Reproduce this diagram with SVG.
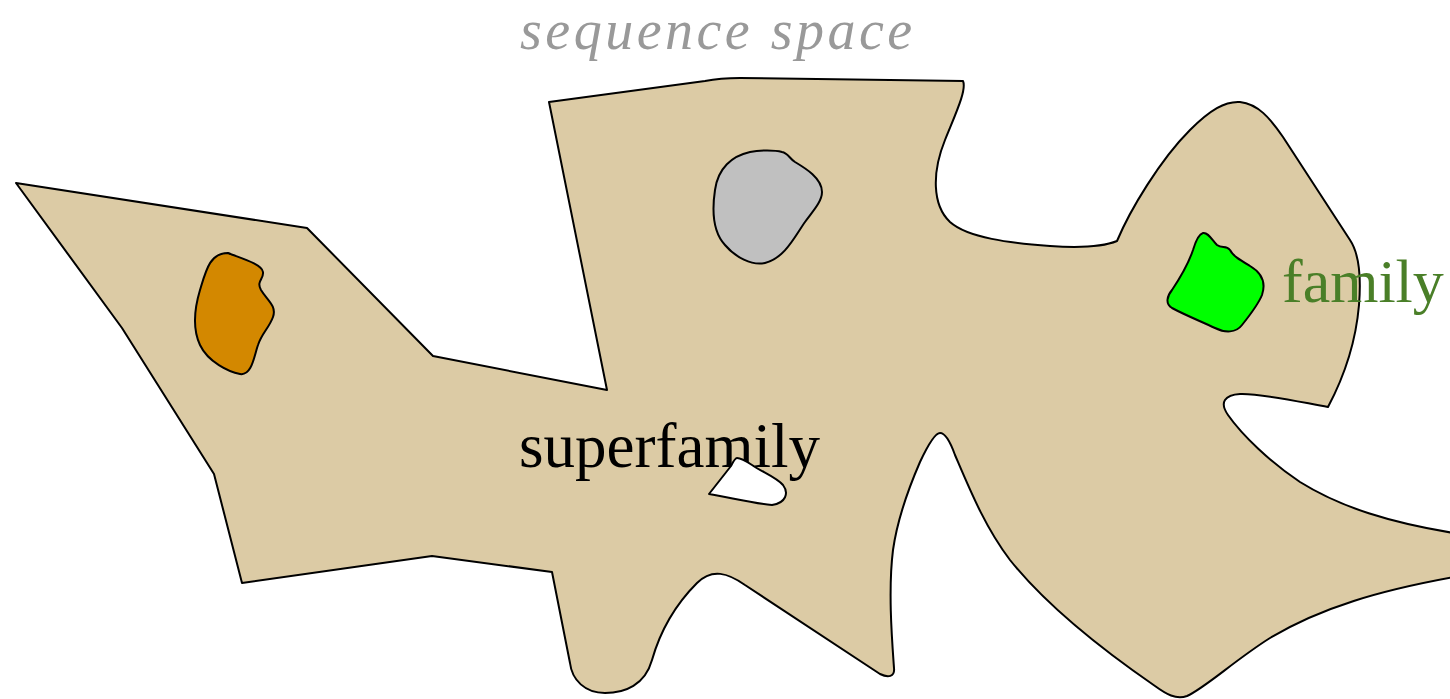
<svg xmlns="http://www.w3.org/2000/svg" width="1450" height="699" viewBox="0 0 1450 699">
  <style>
    .outline { stroke: #000; stroke-width: 2; stroke-linejoin: round; }
    .serif { font-family: "Liberation Serif", "Times New Roman", serif; }
  </style>
  <rect width="1450" height="699" fill="#fff"/>

  <text class="serif" x="520" y="49" font-size="56" font-style="italic" letter-spacing="3.5" fill="#999999">sequence space</text>

  <!-- the superfamily region of sequence space -->
  <g id="space">
    <path class="outline" fill="#dccba5" d="M16,183 L307,228 L433,356 L607,390 L549,102 L705,81 Q720,78 740,78 L963,81
      C967,90 955,115 945,140 C932,172 932,205 950,222 C968,238 1010,243 1050,246 C1080,248 1105,246 1117,241
      C1130,210 1160,160 1190,130 C1210,110 1225,101 1240,102 C1258,104 1270,118 1283,137 L1350,240
      C1360,255 1361,280 1359,305 C1356,340 1345,375 1328,407
      C1300,402 1260,393 1240,394 C1225,395 1219,402 1228,415 C1242,435 1270,462 1300,482 C1340,507 1390,523 1460,534
      L1460,576 C1380,590 1320,608 1270,638 C1235,660 1205,688 1187,696 C1176,700 1166,694 1155,686
      C1110,655 1050,610 1010,560 C985,527 970,490 955,455 C950,441 945,433 940,433 C935,433 928,445 920,462
      C910,485 898,515 893,550 C888,590 892,640 894,668 C895,677 888,678 880,674 L745,585
      C728,573 712,568 697,583 C680,600 662,625 652,660 C645,685 625,693 605,693 C585,693 572,680 570,663
      L552,572 L432,556 L242,583 L214,474 L122,328 Z"/>
  </g>

  <g id="label-superfamily">
    <text class="serif" x="519" y="467" font-size="63" fill="#000">superfamily</text>
  </g>

  <g id="hole">
    <path class="outline" fill="#fff" d="M737,458 C741,458 746,461 752,465 C762,472 776,477 783,485 C789,493 786,503 772,505 C752,503 728,497 709,494 L731,466 C733,462 735,458 737,458 Z"/>
  </g>

  <g id="orange-family">
    <path class="outline" fill="#d38800" d="M228,253 C240,258 262,264 263,272 C264,279 256,281 261,290 C267,300 277,306 273,317 C269,328 262,333 258,345 C254,356 252,376 240,374 C229,372 208,362 200,345 C193,330 194,310 200,290 C206,270 210,253 228,253 Z"/>
  </g>

  <g id="gray-family">
    <path class="outline" fill="#c0c0c0" d="M750,152 C760,150 775,150 782,152 C788,153 789,158 795,162 C805,168 822,178 822,192 C822,202 812,212 805,222 C795,236 785,258 765,263 C752,266 735,257 725,245 C713,232 712,210 715,190 C718,168 732,156 750,152 Z"/>
  </g>

  <g id="green-family">
    <path class="outline" fill="#00ff00" d="M1203,233 C1208,232 1212,240 1217,245 C1222,249 1226,245 1230,250 C1233,256 1240,260 1250,266 C1262,273 1266,283 1262,295 C1258,305 1250,315 1242,325 C1236,333 1225,333 1215,328 C1200,321 1185,315 1172,308 C1165,304 1167,296 1172,290 C1180,278 1188,265 1193,250 C1196,240 1199,234 1203,233 Z"/>
    <text class="serif" x="1282" y="302" font-size="62" fill="#4a7f28">family</text>
  </g>
</svg>
